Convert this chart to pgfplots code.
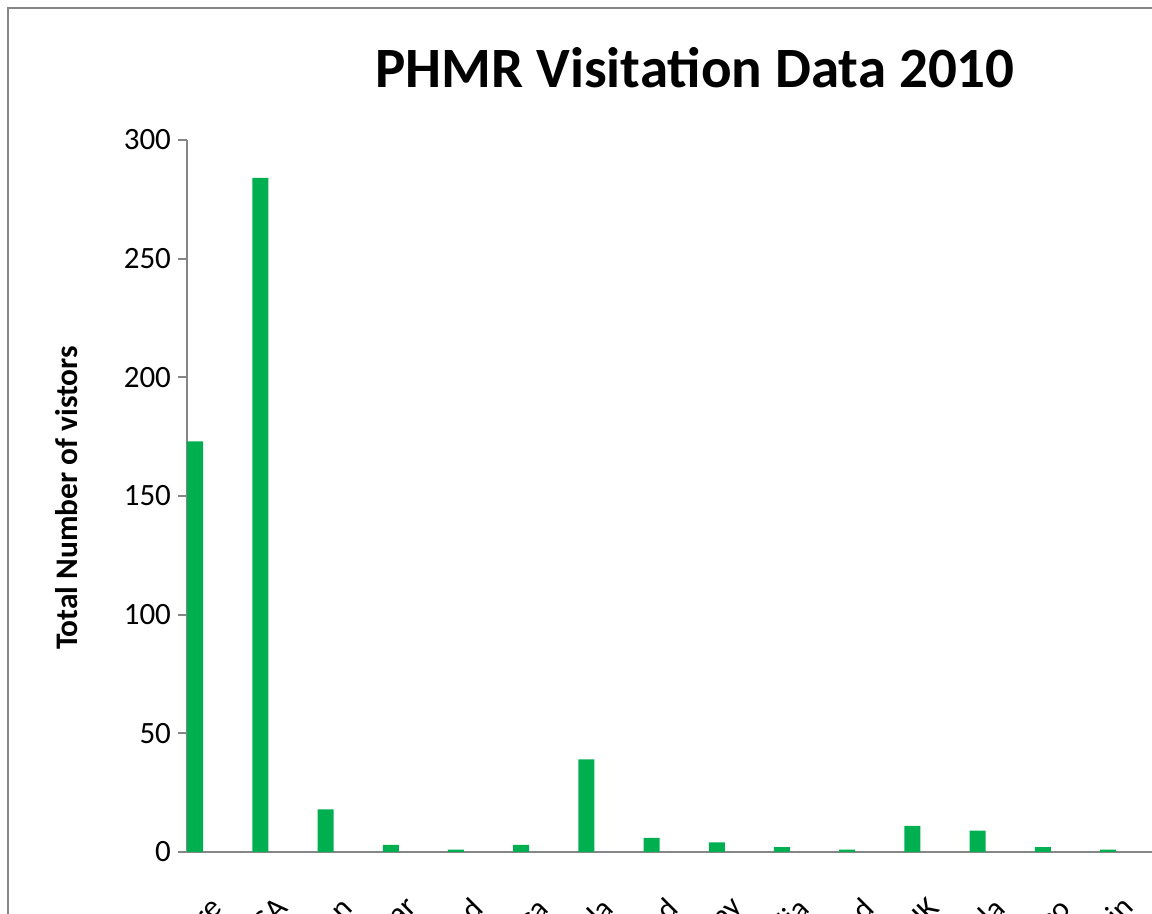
\documentclass[border=0pt]{standalone}
\usepackage{pgfplots}
\pgfplotsset{compat=1.18}
\usepackage{fontspec}
\setmainfont{Carlito}
\definecolor{barg}{HTML}{00B050}
\definecolor{axg}{HTML}{868686}
\begin{document}
\begin{tikzpicture}
\path[use as bounding box] (0,0) rectangle (576pt,457pt);
\clip (0,0) rectangle (576pt,457pt);
\fill[white] (0,0) rectangle (576pt,457pt);
\draw[axg, line width=1.2pt] (4pt,-20pt) -- (4pt,453pt) -- (600pt,453pt);
\begin{axis}[
  at={(93.5pt,31pt)}, anchor=south west,
  scale only axis, width=489pt, height=356pt,
  xmin=0, xmax=15, ymin=0, ymax=300,
  axis x line*=bottom, axis y line*=left,
  axis line style={axg, line width=1.1pt, -},
  ytick={0,50,...,300},
  y tick label style={font=\fontsize{15.5}{18}\selectfont},
  tick style={axg, line width=1.1pt},
  tick align=outside, major tick length=4.5pt,
  /pgf/number format/assume math mode=true,
  xtick={0.5,1.5,...,14.5},
  x tick style={draw=none},
  xticklabels={Not Sure,USA,Taiwan,Qatar,Ireland,South Africa,Canada,Holland,Norway,Australia,Switzerland,UK,Bermuda,Mexico,Spain},
  x tick label style={xshift=1pt, yshift=-18.5pt, rotate=45, anchor=east, font=\fontsize{15.5}{18}\selectfont},
  ybar, bar width=8pt,
]
\addplot[fill=barg, draw=none] coordinates {
 (0.125,173) (1.125,284) (2.125,18) (3.125,3) (4.125,1) (5.125,3) (6.125,39) (7.125,6) (8.125,4) (9.125,2) (10.125,1) (11.125,11) (12.125,9) (13.125,2) (14.125,1)};
\end{axis}
\node[anchor=base, font=\fontsize{28.5}{34}\selectfont\bfseries] at (347.5pt,413pt) {PHMR Visitation Data 2010};
\node[rotate=90, anchor=center, font=\fontsize{15.7}{18}\selectfont\bfseries] at (33.5pt,208pt) {Total Number of vistors};
\end{tikzpicture}
\end{document}
